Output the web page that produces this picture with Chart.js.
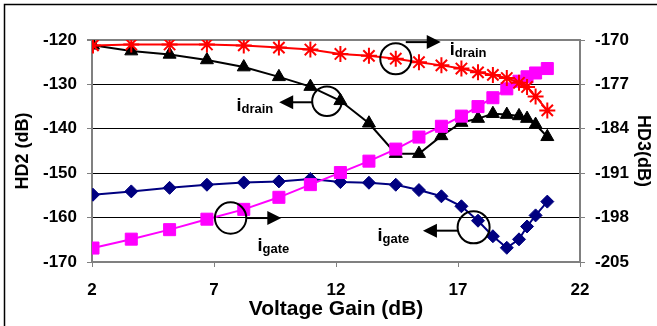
<!DOCTYPE html>
<html>
<head>
<meta charset="utf-8">
<script src="https://cdn.jsdelivr.net/npm/chart.js@4/dist/chart.umd.min.js"></script>
<style>
    html, body { margin: 0; padding: 0; background: #fff; }
    canvas { display: block; }
</style>
</head>
<body>
<canvas id="chart" width="657" height="326"></canvas>
<script>
// Voltage gain (dB), shared by all four curves
const gain = [2.04, 3.61, 5.18, 6.71, 8.22, 9.66, 10.95, 12.18, 13.35, 14.45,
              15.4, 16.32, 17.14, 17.82, 18.43, 19.0, 19.5, 19.83, 20.18, 20.66];

// HD3 with drain current noise (right axis)
const hd3Drain = [-170.85, -170.7, -170.7, -170.7, -170.85, -171.2, -171.5, -172.2, -172.5, -172.95,
                  -173.5, -174.0, -174.5, -175.1, -175.5, -176.0, -176.75, -177.4, -178.9, -181.1];
// HD3 with gate current noise (right axis)
const hd3Gate = [-202.8, -201.4, -199.9, -198.25, -196.7, -194.8, -192.8, -190.9, -189.1, -187.2,
                 -185.3, -183.6, -182.0, -180.5, -179.1, -177.7, -176.5, -175.8, -175.2, -174.5];
// HD2 with drain current noise (left axis)
const hd2Drain = [-121.2, -122.5, -123.25, -124.5, -126.1, -128.3, -130.5, -133.7, -138.75, -145.6,
                  -145.6, -141.6, -138.6, -137.7, -136.6, -136.8, -137.1, -137.7, -139.05, -141.8];
// HD2 with gate current noise (left axis)
const hd2Gate = [-154.85, -154.1, -153.3, -152.6, -152.1, -151.85, -151.3, -152.0, -152.15, -152.6,
                 -153.8, -155.2, -157.45, -160.7, -164.2, -166.8, -164.9, -162.0, -159.5, -156.4];

const xTicks = [2, 22, 5];          // min, max, step
const hd2Ticks = [-170, -120, 10];
const hd3Ticks = [-205, -170, 7];

const FONT = "'Liberation Sans', Arial, sans-serif";

function pts(ys) {
    return gain.map((g, i) => ({ x: g, y: ys[i] }));
}

// Circles + arrows pointing to the axis each curve belongs to
const notes = [
    { x: 14.45, y: -172.95, axis: "y1", r: 15.5, ax: 10, ay: -16.6, len: 35, dir: 1, lx: 54, ly: -4, sub: "drain" },
    { x: 11.63, y: -133.8, axis: "y", r: 14.8, ax: -14.8, ay: 1, len: 33, dir: -1, lx: -90.5, ly: 10, sub: "drain" },
    { x: 7.68, y: -160.1, axis: "y", r: 15.7, ax: 15.7, ay: 0, len: 35, dir: 1, lx: 27, ly: 33.4, sub: "gate" },
    { x: 17.64, y: -162.2, axis: "y", r: 16, ax: -15.7, ay: 3.3, len: 35, dir: -1, lx: -96, ly: 14, sub: "gate" }
];

const notePlugin = {
    id: "notes",
    beforeDraw(chart) {
        const ctx = chart.ctx;
        ctx.save();
        ctx.fillStyle = "#fff";
        ctx.fillRect(0, 0, chart.width, chart.height);
        // outer frame (top and left edges visible)
        ctx.strokeStyle = "#000";
        ctx.lineWidth = 1.5;
        ctx.beginPath();
        ctx.moveTo(4.5, chart.height);
        ctx.lineTo(4.5, 4.5);
        ctx.lineTo(chart.width, 4.5);
        ctx.stroke();
        ctx.restore();
    },
    afterDatasetsDraw(chart) {
        const ctx = chart.ctx;
        const xs = chart.scales.x;
        ctx.save();
        notes.forEach(n => {
            const cx = xs.getPixelForValue(n.x);
            const cy = chart.scales[n.axis].getPixelForValue(n.y);
            ctx.strokeStyle = "#000";
            ctx.fillStyle = "#000";
            ctx.lineWidth = 2;
            ctx.beginPath();
            ctx.arc(cx, cy, n.r, 0, Math.PI * 2);
            ctx.stroke();

            // arrow
            const sx = cx + n.ax, sy = cy + n.ay;
            const tx = sx + n.dir * n.len;
            ctx.beginPath();
            ctx.moveTo(sx, sy);
            ctx.lineTo(tx - n.dir * 10, sy);
            ctx.stroke();
            ctx.beginPath();
            ctx.moveTo(tx, sy);
            ctx.lineTo(tx - n.dir * 14, sy - 7);
            ctx.lineTo(tx - n.dir * 14, sy + 7);
            ctx.closePath();
            ctx.fill();

            // label i + subscript
            const lx = cx + n.lx, ly = cy + n.ly;
            ctx.textBaseline = "alphabetic";
            ctx.textAlign = "left";
            ctx.font = "bold 18px " + FONT;
            ctx.fillText("i", lx, ly);
            const w = ctx.measureText("i").width;
            ctx.font = "bold 13px " + FONT;
            ctx.fillText(n.sub, lx + w, ly + 2);
        });
        ctx.restore();
    }
};

const tickFont = { family: FONT, size: 17, weight: "bold" };
const titleFont = { family: FONT, size: 18, weight: "bold" };

new Chart(document.getElementById("chart"), {
    type: "line",
    data: {
        datasets: [
            {
                label: "HD3 drain",
                data: pts(hd3Drain),
                yAxisID: "y1",
                borderColor: "#ff0000",
                borderWidth: 2,
                pointStyle: "star",
                pointRadius: 8,
                pointBorderColor: "#ff0000",
                pointBorderWidth: 2,
                pointBackgroundColor: "#ff0000"
            },
            {
                label: "HD3 gate",
                data: pts(hd3Gate),
                yAxisID: "y1",
                borderColor: "#ff00ff",
                borderWidth: 2,
                pointStyle: "rect",
                pointRadius: 8.5,
                pointBorderColor: "#ff00ff",
                pointBackgroundColor: "#ff00ff",
                pointBorderWidth: 1
            },
            {
                label: "HD2 drain",
                data: pts(hd2Drain),
                yAxisID: "y",
                borderColor: "#000000",
                borderWidth: 2,
                pointStyle: "triangle",
                pointRadius: 7.5,
                pointBorderColor: "#000000",
                pointBackgroundColor: "#000000",
                pointBorderWidth: 1
            },
            {
                label: "HD2 gate",
                data: pts(hd2Gate),
                yAxisID: "y",
                borderColor: "#000080",
                borderWidth: 2,
                pointStyle: "rectRot",
                pointRadius: 6.5,
                pointBorderColor: "#000080",
                pointBackgroundColor: "#000080",
                pointBorderWidth: 1
            }
        ]
    },
    options: {
        responsive: false,
        animation: false,
        devicePixelRatio: 1,
        layout: { padding: { left: 0, right: 0, top: 40, bottom: 0 } },
        plugins: { legend: { display: false }, tooltip: { enabled: false } },
        elements: { line: { tension: 0 } },
        scales: {
            x: {
                type: "linear",
                min: xTicks[0],
                max: xTicks[1],
                ticks: { stepSize: xTicks[2], font: tickFont, color: "#000", padding: 13 },
                grid: { drawOnChartArea: false, tickLength: 5, color: "#808080" },
                border: { color: "#808080", width: 2 },
                title: { display: true, text: "Voltage Gain (dB)", color: "#000",
                         font: { family: FONT, size: 21, weight: "bold" }, padding: { top: 0, bottom: 4 } },
                afterFit(scale) { scale.height = 64; }
            },
            y: {
                position: "left",
                min: hd2Ticks[0],
                max: hd2Ticks[1],
                ticks: { stepSize: hd2Ticks[2], font: tickFont, color: "#000", padding: 10 },
                grid: {
                    tickLength: 5,
                    tickColor: "#808080",
                    color: c => (c.tick && (c.tick.value === -120 || c.tick.value === -170)) ? "#808080" : "#000",
                    lineWidth: c => (c.tick && c.tick.value === -120) ? 2 : 1
                },
                border: { color: "#808080", width: 2 },
                title: { display: true, text: "HD2 (dB)", color: "#000", font: titleFont, padding: { top: 12, bottom: 0 } },
                afterFit(scale) { scale.width = 92; }
            },
            y1: {
                position: "right",
                min: hd3Ticks[0],
                max: hd3Ticks[1],
                ticks: { stepSize: hd3Ticks[2], font: tickFont, color: "#000", padding: 10 },
                grid: { drawOnChartArea: false, tickLength: 5, color: "#808080" },
                border: { color: "#808080", width: 2 },
                title: { display: true, text: "HD3(dB)", color: "#000", font: titleFont, padding: { top: 3, bottom: 0 } },
                afterFit(scale) { scale.width = 77; }
            }
        }
    },
    plugins: [notePlugin]
});
</script>
</body>
</html>
